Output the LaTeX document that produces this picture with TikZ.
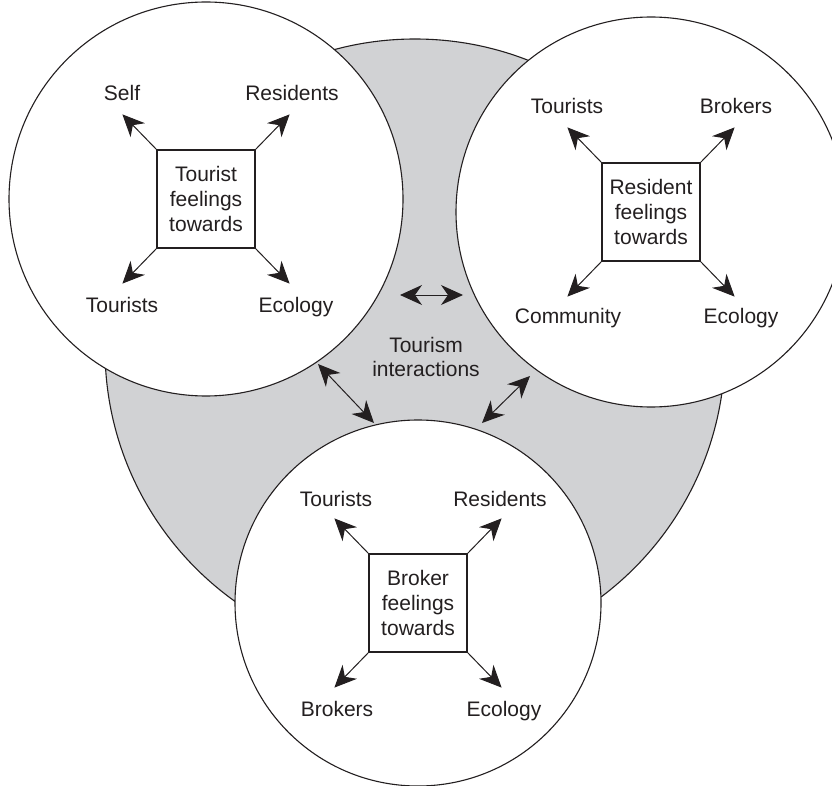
\documentclass[tikz,border=0pt]{standalone}
\usepackage{fontspec}
\setmainfont{Liberation Sans}
\usetikzlibrary{arrows.meta,calc}
\definecolor{ink}{HTML}{231F20}
\definecolor{greyfill}{HTML}{D1D2D4}
\begin{document}
\begin{tikzpicture}[x=1pt,y=-1pt,
  ring/.style={draw=ink, fill=white, line width=1.1pt},
  feelbox/.style={draw=ink, line width=1.2pt, minimum width=98pt, minimum height=98pt, inner sep=0pt, align=center, font=\fontsize{21}{25}\selectfont, text=ink},
  lbl/.style={anchor=base, inner sep=0pt, font=\fontsize{21}{25}\selectfont, text=ink},
  head/.tip={Stealth[length=22pt,width=20pt,inset=7pt]},
  arr/.style={draw=ink, line width=1pt, -head},
  darr/.style={draw=ink, line width=1pt, head-head}]
\useasboundingbox (0,0) rectangle (832,786);
\begin{scope}
\clip (0,0) rectangle (832,786);
\filldraw[fill=greyfill, draw=ink, line width=1.1pt] (415,349) circle [radius=310pt];
\draw[ring] (206,199) circle [radius=197pt];
\draw[ring] (651,212) circle [radius=195pt];
\draw[ring] (418,603) circle [radius=183pt];
\end{scope}

% left circle
\node[feelbox] (b1) at (206,199) {Tourist\\feelings\\towards};
\node[lbl] (l1a) at (122,101) {Self};
\node[lbl] (l1b) at (292,101) {Residents};
\node[lbl] (l1c) at (122,312) {Tourists};
\node[lbl] (l1d) at (296,312) {Ecology};
\coordinate (t1a) at ($(b1.north west)+(-34,-35)$);
\coordinate (t1b) at ($(b1.north east)+(34,-35)$);
\coordinate (t1c) at ($(b1.south west)+(-34,35)$);
\coordinate (t1d) at ($(b1.south east)+(34,35)$);
\draw[arr] (b1.north west) -- (t1a);
\draw[arr] (b1.north east) -- (t1b);
\draw[arr] (b1.south west) -- (t1c);
\draw[arr] (b1.south east) -- (t1d);

% right circle
\node[feelbox] (b2) at (651,212) {Resident\\feelings\\towards};
\node[lbl] (l2a) at (567,114) {Tourists};
\node[lbl] (l2b) at (736,114) {Brokers};
\node[lbl] (l2c) at (568,323) {Community};
\node[lbl] (l2d) at (741,323) {Ecology};
\coordinate (t2a) at ($(b2.north west)+(-34,-35)$);
\coordinate (t2b) at ($(b2.north east)+(34,-35)$);
\coordinate (t2c) at ($(b2.south west)+(-34,35)$);
\coordinate (t2d) at ($(b2.south east)+(34,35)$);
\draw[arr] (b2.north west) -- (t2a);
\draw[arr] (b2.north east) -- (t2b);
\draw[arr] (b2.south west) -- (t2c);
\draw[arr] (b2.south east) -- (t2d);

% bottom circle
\node[feelbox] (b3) at (418,603) {Broker\\feelings\\towards};
\node[lbl] (l3a) at (336,506) {Tourists};
\node[lbl] (l3b) at (500,506) {Residents};
\node[lbl] (l3c) at (337,716) {Brokers};
\node[lbl] (l3d) at (504,716) {Ecology};
\coordinate (t3a) at ($(b3.north west)+(-34,-35)$);
\coordinate (t3b) at ($(b3.north east)+(34,-35)$);
\coordinate (t3c) at ($(b3.south west)+(-34,35)$);
\coordinate (t3d) at ($(b3.south east)+(34,35)$);
\draw[arr] (b3.north west) -- (t3a);
\draw[arr] (b3.north east) -- (t3b);
\draw[arr] (b3.south west) -- (t3c);
\draw[arr] (b3.south east) -- (t3d);

% centre
\node[align=center, inner sep=0pt, font=\fontsize{21}{24}\selectfont, text=ink] (mid) at (426,357) {Tourism\\interactions};
\coordinate (d1a) at (400,295);
\coordinate (d1b) at (463,295);
\coordinate (d2a) at (318,364);
\coordinate (d2b) at (374,423);
\coordinate (d3a) at (482,423);
\coordinate (d3b) at (530,376);
\draw[darr] (d1a) -- (d1b);
\draw[darr] (d2a) -- (d2b);
\draw[darr] (d3a) -- (d3b);
\end{tikzpicture}
\end{document}
